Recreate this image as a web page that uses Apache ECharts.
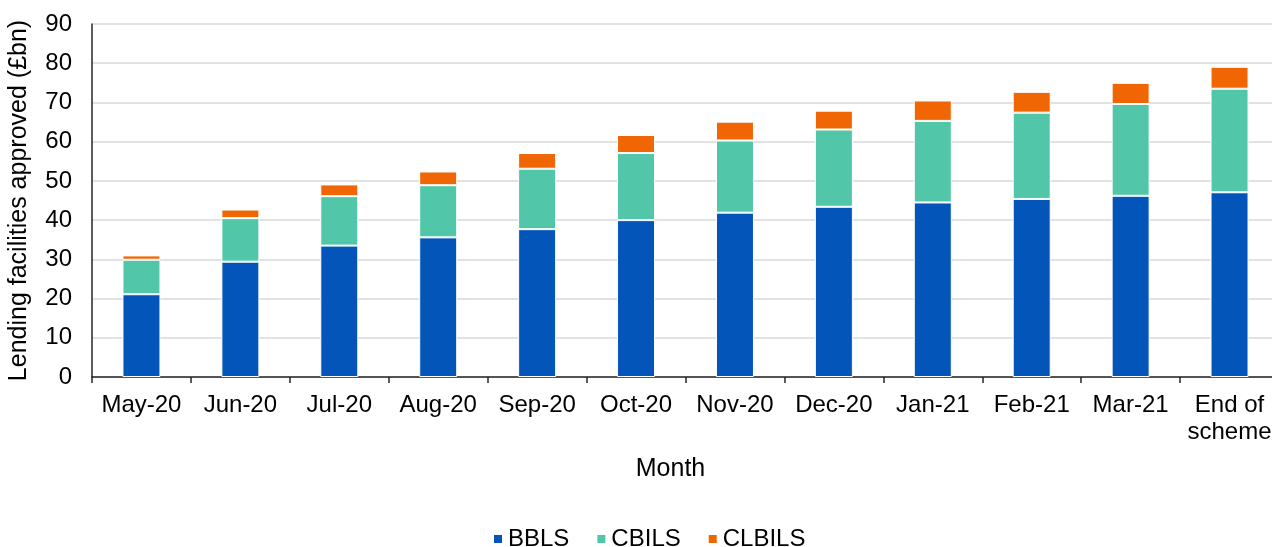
<!DOCTYPE html>
<html>
<head>
  <meta charset="UTF-8">
  <title>Lending facilities approved</title>
  <script src="https://cdn.jsdelivr.net/npm/echarts@6/dist/echarts.min.js"></script>
  <style>
    html, body { margin: 0; padding: 0; background: #fff; }
    #chart { width: 1272px; height: 547px; }
  </style>
</head>
<body>
<div id="chart"></div>
<script>
  // months on the x axis
  var months = ['May-20', 'Jun-20', 'Jul-20', 'Aug-20', 'Sep-20', 'Oct-20',
    'Nov-20', 'Dec-20', 'Jan-21', 'Feb-21', 'Mar-21', 'End of\nscheme'];

  // £bn
  var bbls   = [21.1, 29.4, 33.5, 35.6, 37.7, 40.0, 41.9, 43.4, 44.5, 45.4, 46.2, 47.1];
  var cbils  = [8.8, 11.1, 12.6, 13.3, 15.4, 17.1, 18.4, 19.7, 20.8, 22.0, 23.4, 26.4];
  var clbils = [1.1, 2.2, 3.0, 3.5, 4.0, 4.6, 4.8, 4.8, 5.2, 5.3, 5.4, 5.6];

  var font = 'Liberation Sans, Arial, sans-serif';
  var chart = echarts.init(document.getElementById('chart'));

  function bar(name, data, color) {
    return {
      name: name,
      type: 'bar',
      stack: 'total',
      data: data,
      barWidth: 38,
      itemStyle: { color: color, borderColor: '#ffffff', borderWidth: 1 }
    };
  }

  chart.setOption({
    animation: false,
    textStyle: { fontFamily: font },
    grid: { left: 92, top: 24, width: 1187, bottom: 170, outerBoundsMode: 'none', containLabel: false },
    legend: {
      bottom: -9,
      left: 487,
      itemWidth: 10,
      itemHeight: 10,
      itemGap: 26,
      icon: 'rect',
      textStyle: { fontSize: 24, color: '#000', fontFamily: font },
      data: ['BBLS', 'CBILS', 'CLBILS']
    },
    xAxis: {
      type: 'category',
      data: months,
      name: 'Month',
      nameLocation: 'middle',
      nameGap: 80,
      nameTextStyle: { fontSize: 25, color: '#000', fontFamily: font, padding: [0, 30, 0, 0] },
      axisLine: { lineStyle: { color: '#262626', width: 1.5 } },
      axisTick: { show: true, length: 6, lineStyle: { color: '#262626', width: 1.5 } },
      axisLabel: { fontSize: 24, color: '#000', margin: 15, lineHeight: 27, fontFamily: font, interval: 0 }
    },
    yAxis: {
      type: 'value',
      min: 0,
      max: 90,
      interval: 10,
      name: 'Lending facilities approved (£bn)',
      nameLocation: 'middle',
      nameGap: 60,
      nameTextStyle: { fontSize: 25, color: '#000', fontFamily: font },
      axisLine: { show: true, lineStyle: { color: '#262626', width: 1.5 } },
      axisTick: { show: false },
      axisLabel: { fontSize: 24, color: '#000', margin: 20, fontFamily: font },
      splitLine: { lineStyle: { color: '#d9d9d9', width: 1.5 } }
    },
    series: [
      bar('BBLS', bbls, '#0455ba'),
      bar('CBILS', cbils, '#51c6a8'),
      bar('CLBILS', clbils, '#f06605')
    ]
  });
</script>
</body>
</html>
